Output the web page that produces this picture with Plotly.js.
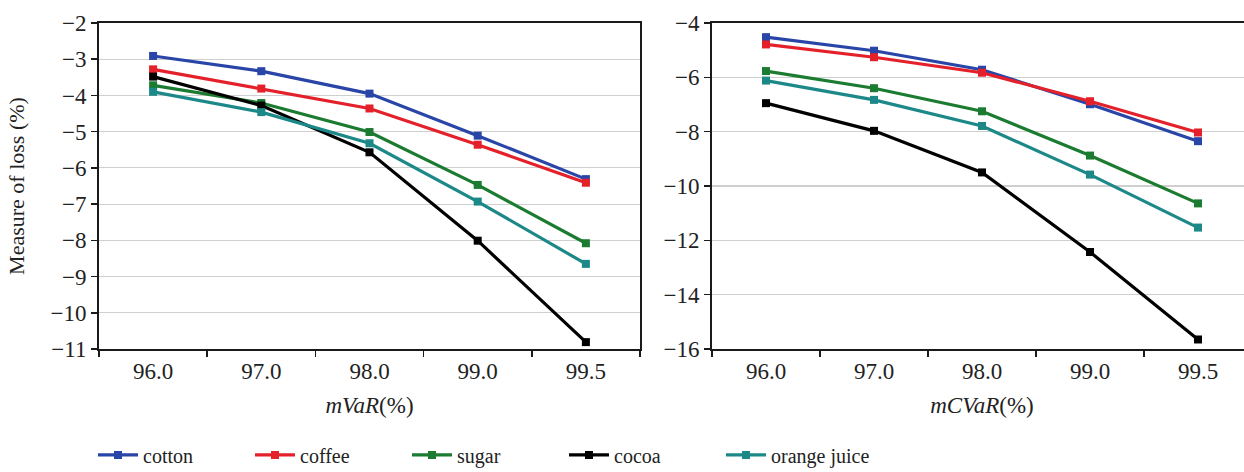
<!DOCTYPE html>
<html>
<head>
<meta charset="utf-8">
<script src="https://cdn.plot.ly/plotly-3.0.1.min.js"></script>
<style>
html, body { margin: 0; padding: 0; overflow: hidden; background: #fff; }
#chart { width: 1252px; height: 472px; }
</style>
</head>
<body>
<div id="chart"></div>
<script>
// Confidence levels (categories)
const levels = ["96.0", "97.0", "98.0", "99.0", "99.5"];
const seriesNames = ["cotton", "coffee", "sugar", "cocoa", "orange juice"];
const seriesColors = ["#2a45a8", "#e4212b", "#1b7b30", "#000000", "#1c8888"];

// mVaR (%) values
const mvarCotton = [-2.91, -3.33, -3.95, -5.11, -6.31];
const mvarCoffee = [-3.28, -3.81, -4.36, -5.36, -6.41];
const mvarSugar  = [-3.72, -4.21, -5.01, -6.47, -8.08];
const mvarCocoa  = [-3.48, -4.28, -5.57, -8.01, -10.81];
const mvarOJ     = [-3.90, -4.46, -5.32, -6.93, -8.65];

// mCVaR (%) values
const mcvarCotton = [-4.52, -5.02, -5.72, -6.99, -8.35];
const mcvarCoffee = [-4.79, -5.26, -5.83, -6.88, -8.03];
const mcvarSugar  = [-5.77, -6.40, -7.25, -8.88, -10.64];
const mcvarCocoa  = [-6.95, -7.97, -9.50, -12.43, -15.65];
const mcvarOJ     = [-6.12, -6.83, -7.79, -9.58, -11.53];

const mvarSets = [mvarCotton, mvarCoffee, mvarSugar, mvarCocoa, mvarOJ];
const mcvarSets = [mcvarCotton, mcvarCoffee, mcvarSugar, mcvarCocoa, mcvarOJ];

const font = "'Liberation Serif', 'DejaVu Serif', serif";
const traces = [];
seriesNames.forEach((name, i) => {
  traces.push({
    x: levels, y: mvarSets[i], name: name, type: "scatter", mode: "lines+markers",
    xaxis: "x", yaxis: "y", legendgroup: name, showlegend: true,
    line: { color: seriesColors[i], width: 3.2 },
    marker: { symbol: "square", size: 8, color: seriesColors[i] }
  });
  traces.push({
    x: levels, y: mcvarSets[i], name: name, type: "scatter", mode: "lines+markers",
    xaxis: "x2", yaxis: "y2", legendgroup: name, showlegend: false,
    line: { color: seriesColors[i], width: 3.2 },
    marker: { symbol: "square", size: 8, color: seriesColors[i] }
  });
});

const W = 1252;
const axisCommon = {
  type: "category", range: [-0.5, 4.5], autorange: false,
  showline: true, linecolor: "#1a1a1a", linewidth: 2, mirror: true,
  ticks: "outside", tickson: "boundaries", ticklen: 6, tickwidth: 1.5, tickcolor: "#1a1a1a",
  showgrid: false, gridcolor: "rgba(0,0,0,0)", zeroline: false, automargin: false,
  tickfont: { family: font, size: 23, color: "#222" }
};
const yCommon = {
  showline: true, linecolor: "#1a1a1a", linewidth: 2, mirror: true,
  ticks: "outside", ticklen: 6, tickwidth: 1.5, tickcolor: "#1a1a1a",
  showgrid: true, gridcolor: "#cfcfcf", gridwidth: 1.2, zeroline: false, automargin: false,
  tickfont: { family: font, size: 23, color: "#222" }
};

const layout = {
  width: W, height: 472,
  margin: { l: 0, r: 0, t: 23, b: 123, autoexpand: false },
  paper_bgcolor: "#fff", plot_bgcolor: "#fff",
  font: { family: font, color: "#222" },
  showlegend: true,
  xaxis: Object.assign({}, axisCommon, {
    domain: [99 / W, 640 / W], anchor: "y",
    title: { text: "<i>mVaR</i>(%)", font: { family: font, size: 23, color: "#222" }, standoff: 14 }
  }),
  yaxis: Object.assign({}, yCommon, {
    domain: [0, 1], anchor: "x", range: [-11, -2], dtick: 1,
    title: { text: "Measure of loss (%)", font: { family: font, size: 22, color: "#222" }, standoff: 20 }
  }),
  xaxis2: Object.assign({}, axisCommon, {
    domain: [712 / W, 1], anchor: "y2",
    title: { text: "<i>mCVaR</i>(%)", font: { family: font, size: 23, color: "#222" }, standoff: 14 }
  }),
  yaxis2: Object.assign({}, yCommon, {
    domain: [0, 1], anchor: "x2", range: [-16, -4], dtick: 2
  }),
  legend: {
    orientation: "h", x: 93 / W, xanchor: "left", y: -0.265, yanchor: "top",
    font: { family: font, size: 20, color: "#222" },
    entrywidth: 102, entrywidthmode: "pixels", itemwidth: 40,
    bgcolor: "rgba(0,0,0,0)"
  }
};

Plotly.newPlot("chart", traces, layout, { displayModeBar: false, staticPlot: true });
</script>
</body>
</html>
